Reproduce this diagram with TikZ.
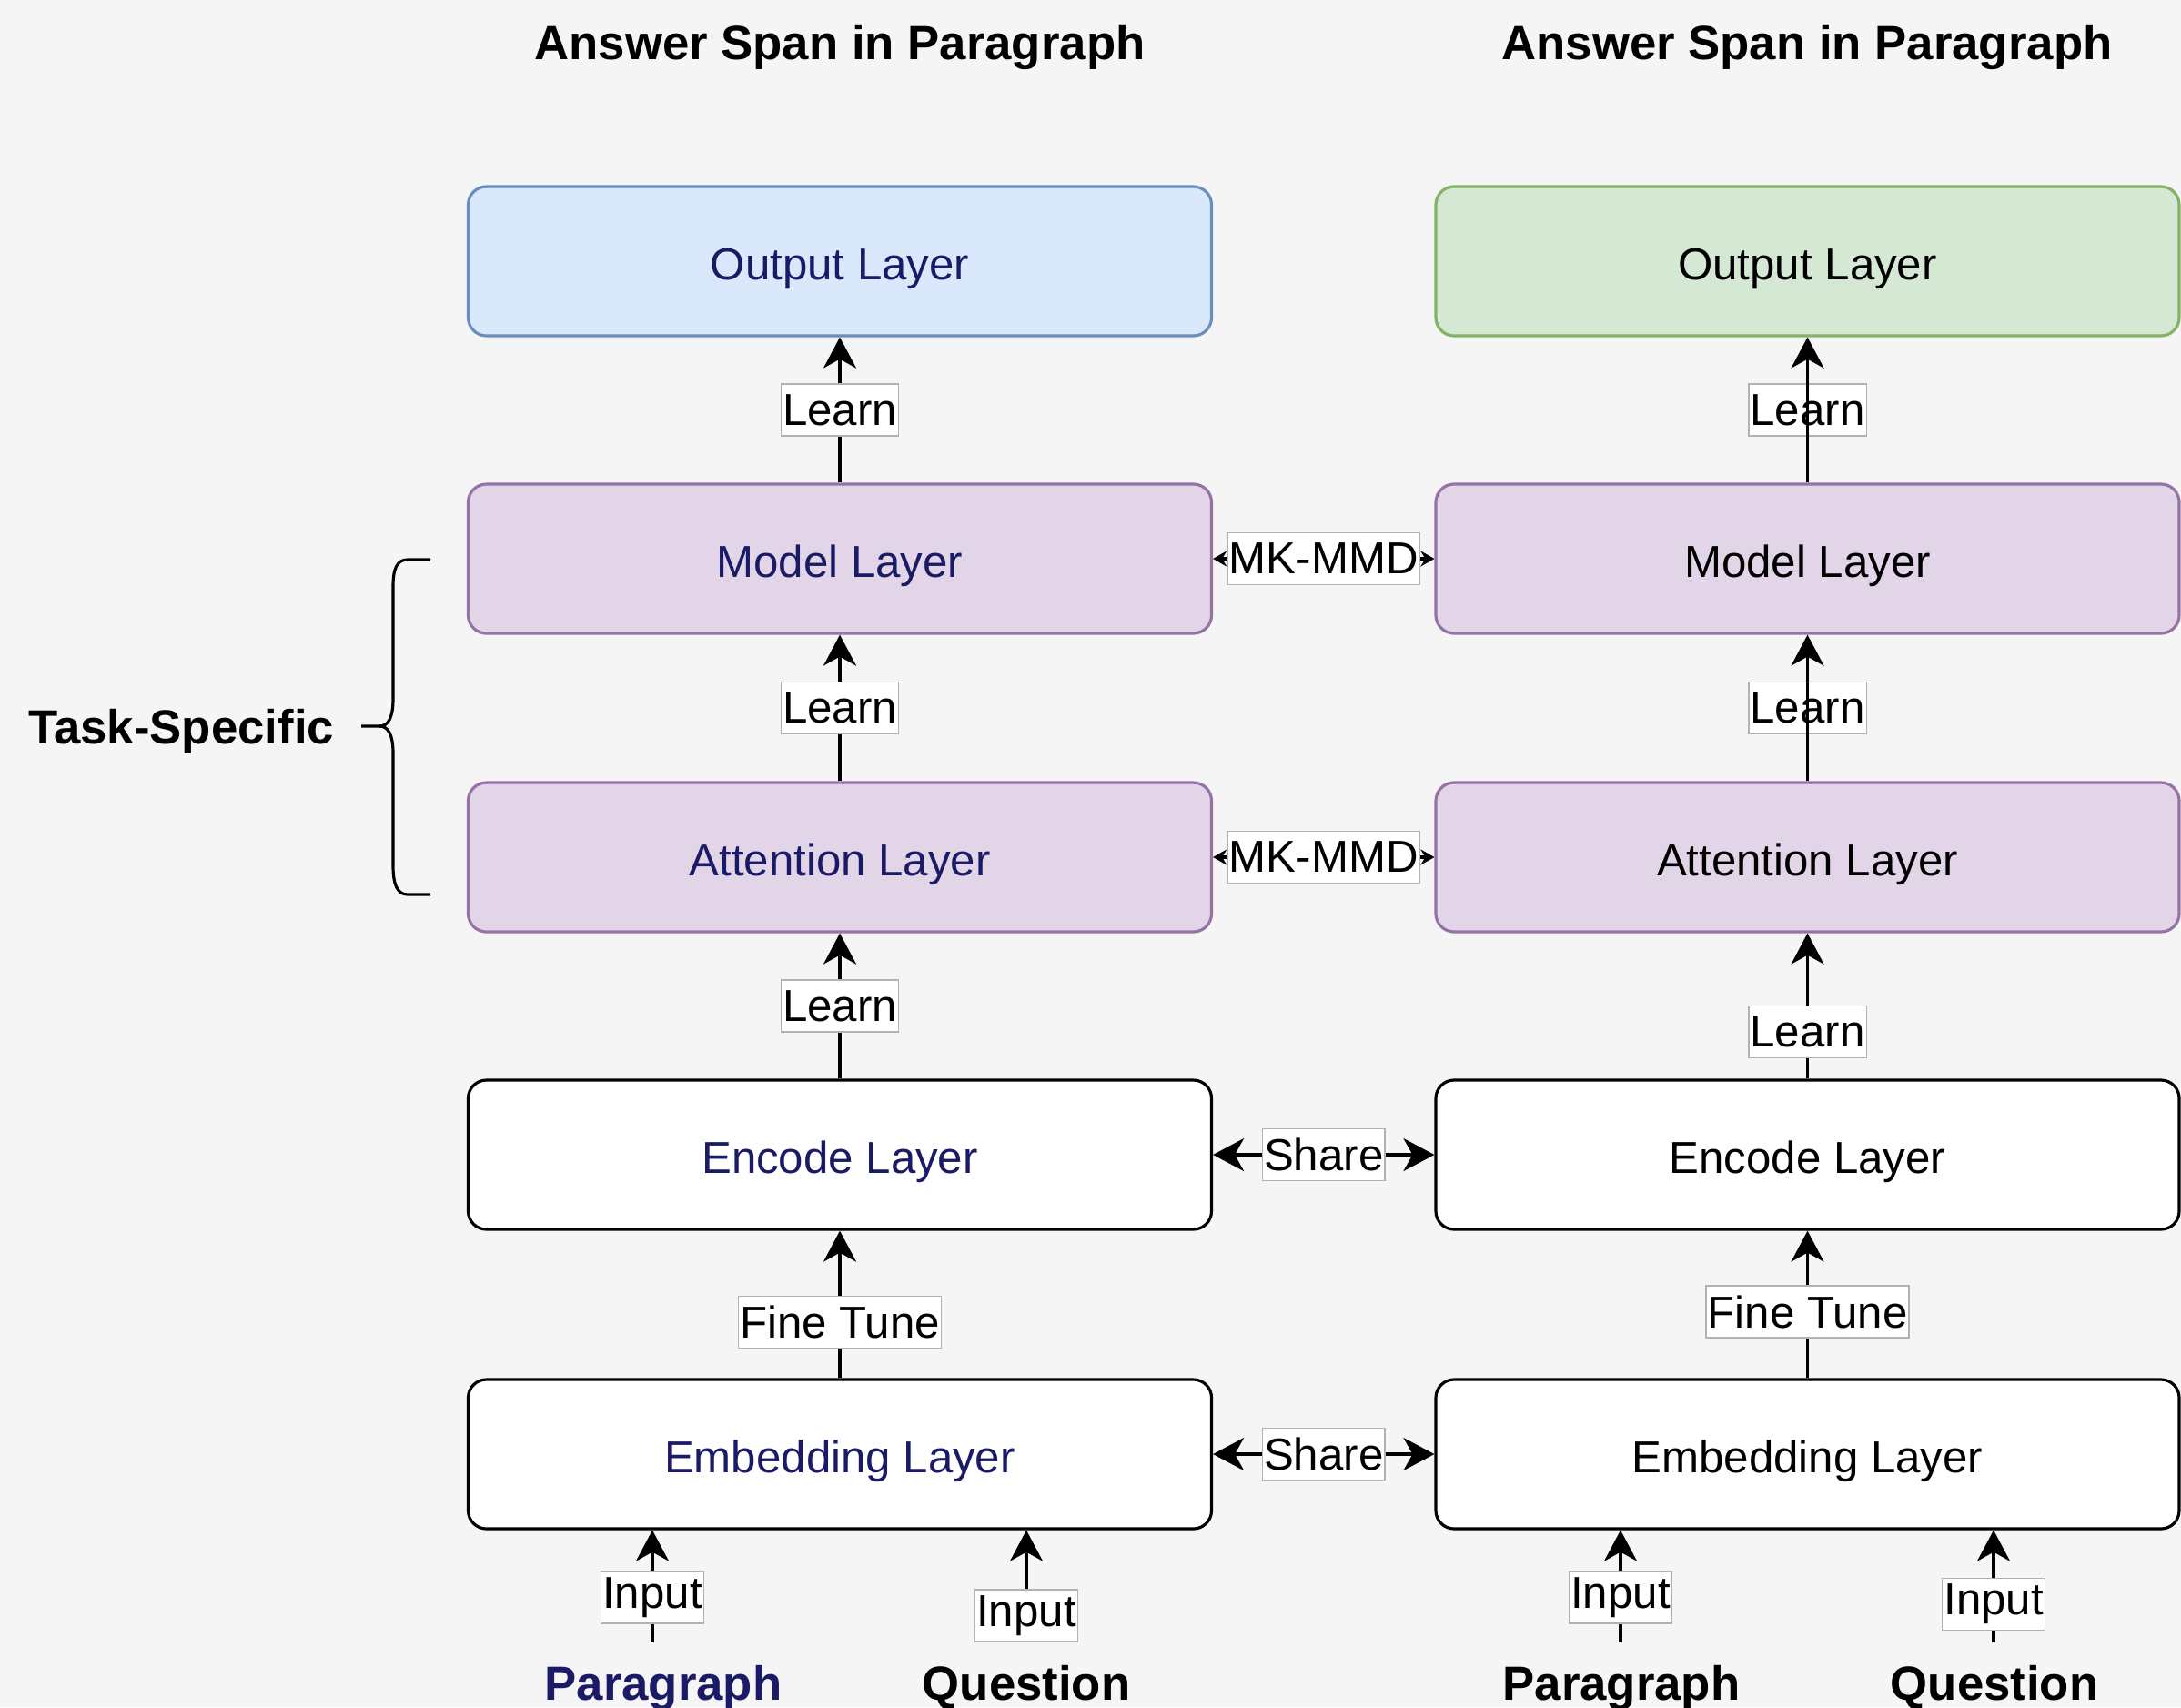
\documentclass[tikz,border=0pt]{standalone}
\usepackage{fontspec}
\setmainfont{Liberation Sans}
\usetikzlibrary{arrows.meta}

\definecolor{bgGray}{HTML}{F5F5F5}
\definecolor{blueFill}{HTML}{DAE8FC}
\definecolor{blueLine}{HTML}{6C8EBF}
\definecolor{greenFill}{HTML}{D5E8D4}
\definecolor{greenLine}{HTML}{82B366}
\definecolor{purpleFill}{HTML}{E1D5E7}
\definecolor{purpleLine}{HTML}{9673A6}
\definecolor{navyText}{HTML}{1A1A66}

\begin{document}
\begin{tikzpicture}[
    layerbox/.style = {draw, rounded corners=0.2cm, minimum width=8.17cm, minimum height=1.64cm,
        line width=0.9pt, text height=14.5pt, text depth=2.9pt, font=\fontsize{14}{17}\selectfont},
    tagbox/.style = {fill=white, draw=black!30, line width=0.4pt, inner xsep=0.5pt, inner ysep=0pt,
        minimum height=0.57cm, font=\fontsize{14}{17}\selectfont},
    headtext/.style = {font=\fontsize{15}{18}\selectfont\bfseries},
    upArrow/.style = {-{Stealth[length=0.34cm, width=0.36cm, inset=0.1cm]}, line width=0.9pt},
    dblArrow/.style = {{Stealth[length=0.34cm, width=0.36cm, inset=0.1cm]}-{Stealth[length=0.34cm, width=0.36cm, inset=0.1cm]}, line width=0.9pt},
    mmdArrow/.style = {{Stealth[length=0.15cm, width=0.17cm]}-{Stealth[length=0.15cm, width=0.17cm]}, line width=0.9pt}
]
    % Background
    \fill[bgGray] (0,0) rectangle (23.97,-18.76);
    \useasboundingbox (0,0) rectangle (23.97,-18.76);

    % Titles
    \node[headtext] (titleL) at (9.23,-0.52) {Answer Span in Paragraph};
    \node[headtext] (titleR) at (19.86,-0.52) {Answer Span in Paragraph};

    % Left column
    \node[layerbox, fill=blueFill, draw=blueLine, text=navyText] (outL) at (9.23,-2.87) {Output Layer};
    \node[layerbox, fill=purpleFill, draw=purpleLine, text=navyText] (modL) at (9.23,-6.14) {Model Layer};
    \node[layerbox, fill=purpleFill, draw=purpleLine, text=navyText] (attL) at (9.23,-9.42) {Attention Layer};
    \node[layerbox, fill=white, text=navyText] (encL) at (9.23,-12.69) {Encode Layer};
    \node[layerbox, fill=white, text=navyText] (embL) at (9.23,-15.98) {Embedding Layer};

    % Right column
    \node[layerbox, fill=greenFill, draw=greenLine] (outR) at (19.865,-2.87) {Output Layer};
    \node[layerbox, fill=purpleFill, draw=purpleLine] (modR) at (19.865,-6.14) {Model Layer};
    \node[layerbox, fill=purpleFill, draw=purpleLine] (attR) at (19.865,-9.42) {Attention Layer};
    \node[layerbox, fill=white] (encR) at (19.865,-12.69) {Encode Layer};
    \node[layerbox, fill=white] (embR) at (19.865,-15.98) {Embedding Layer};

    % Left arrows
    \draw[upArrow] (modL) -- node[tagbox] (lrnL1) {Learn} (outL);
    \draw[upArrow] (attL) -- node[tagbox] (lrnL2) {Learn} (modL);
    \draw[upArrow] (encL) -- node[tagbox] (lrnL3) {Learn} (attL);
    \draw[upArrow] (embL) -- node[tagbox, pos=0.38] (ftL) {Fine Tune} (encL);

    % Right arrows (line runs over the top two labels)
    \path (modR) -- node[tagbox] (lrnR1) {Learn} (outR);
    \draw[upArrow] (modR) -- (outR);
    \path (attR) -- node[tagbox] (lrnR2) {Learn} (modR);
    \draw[upArrow] (attR) -- (modR);
    \draw[upArrow] (encR) -- node[tagbox, pos=0.32] (lrnR3) {Learn} (attR);
    \draw[upArrow] (embR) -- node[tagbox, pos=0.45] (ftR) {Fine Tune} (encR);

    % Links between columns
    \draw[mmdArrow] (modL) -- node[tagbox] (mmd1) {MK-MMD} (modR);
    \draw[mmdArrow] (attL) -- node[tagbox] (mmd2) {MK-MMD} (attR);
    \draw[dblArrow] (encL) -- node[tagbox] (shr1) {Share} (encR);
    \draw[dblArrow] (embL) -- node[tagbox] (shr2) {Share} (embR);

    % Inputs
    \coordinate (inPL) at (7.17,-18.05);
    \coordinate (inQL) at (11.28,-18.05);
    \coordinate (inPR) at (17.81,-18.05);
    \coordinate (inQR) at (21.91,-18.05);
    \draw[upArrow] (inPL) -- node[tagbox, pos=0.4] (ipL) {Input} (inPL |- embL.south);
    \draw[upArrow] (inQL) -- node[tagbox, pos=0.24] (iqL) {Input} (inQL |- embL.south);
    \draw[upArrow] (inPR) -- node[tagbox, pos=0.4] (ipR) {Input} (inPR |- embR.south);
    \draw[upArrow] (inQR) -- node[tagbox, pos=0.34] (iqR) {Input} (inQR |- embR.south);

    % Input names
    \node[headtext, text=navyText] (parL) at (7.29,-18.55) {Paragraph};
    \node[headtext] (queL) at (11.28,-18.55) {Question};
    \node[headtext] (parR) at (17.82,-18.55) {Paragraph};
    \node[headtext] (queR) at (21.92,-18.55) {Question};

    % Task-specific brace
    \node[headtext] (task) at (1.99,-8.04) {Task-Specific};
    \draw[line width=0.9pt] (4.73,-6.15) -- (4.48,-6.15) .. controls (4.36,-6.15) and (4.32,-6.25) .. (4.32,-6.45)
        -- (4.32,-7.68) .. controls (4.32,-7.88) and (4.27,-7.98) .. (4.17,-7.98) -- (3.97,-7.98);
    \draw[line width=0.9pt] (4.17,-7.98) .. controls (4.27,-7.98) and (4.32,-8.08) .. (4.32,-8.28)
        -- (4.32,-9.51) .. controls (4.32,-9.71) and (4.36,-9.83) .. (4.48,-9.83) -- (4.73,-9.83);
\end{tikzpicture}
\end{document}
